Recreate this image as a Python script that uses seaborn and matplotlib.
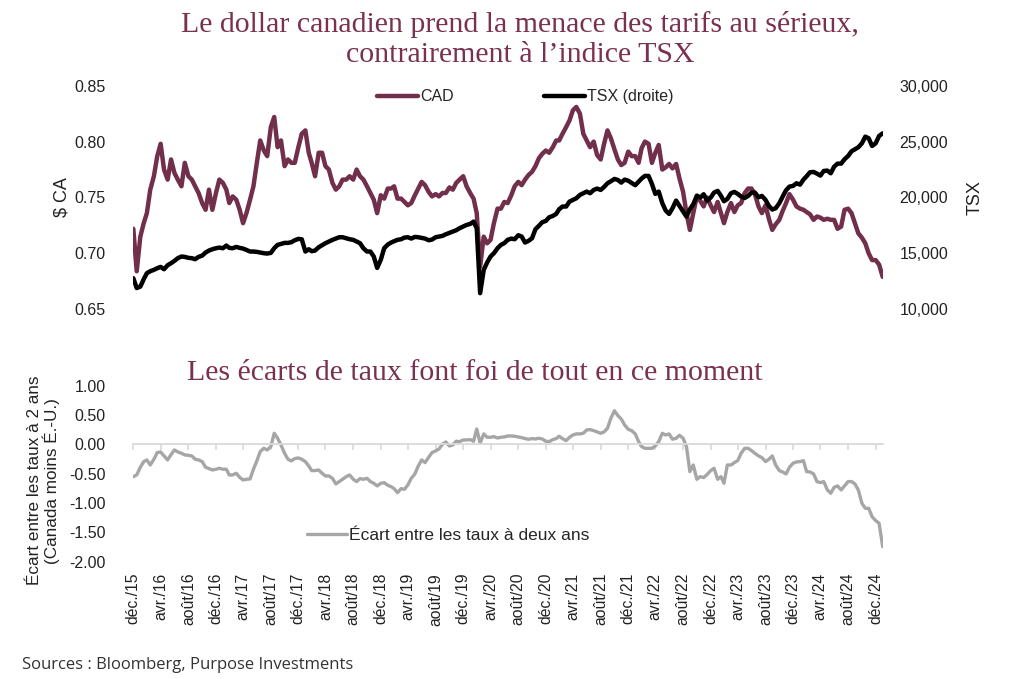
import numpy as np
import pandas as pd
import matplotlib
matplotlib.use("Agg")
import matplotlib.pyplot as plt
import matplotlib.dates as mdates
from matplotlib.ticker import FuncFormatter, FixedLocator
from matplotlib.lines import Line2D
import seaborn as sns

# ---------------- data (semi-monthly readings) ----------------
dates = pd.date_range("2015-12-31", "2025-01-31", freq="SME")

cad = [
    0.722, 0.684, 0.715, 0.727, 0.736, 0.757, 0.769, 0.787, 0.798, 0.775,
    0.766, 0.784, 0.772, 0.766, 0.760, 0.781, 0.769, 0.766, 0.760, 0.754,
    0.745, 0.739, 0.757, 0.739, 0.754, 0.766, 0.763, 0.757, 0.745, 0.751,
    0.748, 0.739, 0.727, 0.736, 0.748, 0.760, 0.781, 0.801, 0.792, 0.787,
    0.813, 0.822, 0.795, 0.801, 0.778, 0.784, 0.781, 0.781, 0.795, 0.807,
    0.810, 0.790, 0.781, 0.769, 0.790, 0.790, 0.778, 0.775, 0.763, 0.757,
    0.760, 0.766, 0.766, 0.769, 0.766, 0.775, 0.769, 0.766, 0.760, 0.754,
    0.748, 0.736, 0.752, 0.749, 0.758, 0.758, 0.760, 0.749, 0.749, 0.746,
    0.743, 0.745, 0.752, 0.758, 0.764, 0.761, 0.755, 0.751, 0.753, 0.751,
    0.754, 0.754, 0.759, 0.757, 0.763, 0.766, 0.769, 0.760, 0.754, 0.749,
    0.736, 0.688, 0.715, 0.709, 0.712, 0.727, 0.740, 0.740, 0.746, 0.745,
    0.752, 0.760, 0.764, 0.761, 0.766, 0.770, 0.773, 0.778, 0.785, 0.789,
    0.792, 0.790, 0.795, 0.801, 0.801, 0.807, 0.813, 0.819, 0.828, 0.831,
    0.825, 0.807, 0.801, 0.795, 0.800, 0.788, 0.784, 0.798, 0.810, 0.803,
    0.793, 0.784, 0.779, 0.781, 0.791, 0.787, 0.787, 0.781, 0.794, 0.800,
    0.798, 0.781, 0.790, 0.797, 0.775, 0.777, 0.780, 0.776, 0.780, 0.767,
    0.755, 0.736, 0.721, 0.736, 0.751, 0.747, 0.742, 0.750, 0.743, 0.737,
    0.746, 0.736, 0.727, 0.737, 0.745, 0.737, 0.743, 0.745, 0.754, 0.758,
    0.758, 0.753, 0.742, 0.736, 0.743, 0.731, 0.721, 0.726, 0.730, 0.738,
    0.745, 0.753, 0.748, 0.742, 0.740, 0.739, 0.737, 0.735, 0.730, 0.733,
    0.732, 0.730, 0.731, 0.730, 0.730, 0.722, 0.724, 0.739, 0.740, 0.736,
    0.727, 0.718, 0.714, 0.709, 0.700, 0.694, 0.694, 0.690, 0.679,
]

tsx = [
    12780, 11900, 12030, 12690, 13230, 13405, 13525, 13675, 13790, 13585,
    13940, 14120, 14330, 14570, 14720, 14685, 14600, 14570, 14480, 14690,
    14800, 15075, 15255, 15370, 15460, 15520, 15460, 15700, 15490, 15460,
    15580, 15490, 15430, 15310, 15165, 15165, 15135, 15075, 15015, 14985,
    15045, 15460, 15760, 15850, 15940, 15940, 16000, 16175, 16295, 16265,
    15165, 15370, 15195, 15255, 15550, 15730, 15910, 16055, 16210, 16325,
    16445, 16445, 16355, 16265, 16210, 16055, 15910, 15460, 15165, 15165,
    14715, 13700, 14420, 15460, 15790, 15970, 16090, 16210, 16265, 16415,
    16445, 16325, 16475, 16445, 16385, 16325, 16175, 16235, 16445, 16505,
    16565, 16710, 16830, 16950, 17070, 17250, 17400, 17545, 17635, 17845,
    17250, 11440, 13525, 14180, 14715, 15015, 15460, 15760, 15910, 16210,
    16325, 16265, 16625, 16505, 15970, 16115, 16355, 17160, 17460, 17785,
    17905, 18230, 18350, 18530, 18950, 19190, 19190, 19635, 19785, 19930,
    20230, 20380, 20530, 20380, 20675, 20795, 20675, 20945, 21270, 21450,
    21660, 21570, 21330, 21600, 21500, 21300, 21100, 21420, 21690, 21930,
    21930, 21210, 20320, 20530, 19485, 18830, 18530, 19035, 19720, 19245,
    18740, 18290, 18950, 19395, 20170, 19990, 20290, 19720, 19990, 20440,
    20590, 20140, 19665, 19870, 20380, 20500, 20320, 20080, 19960, 20140,
    20440, 20440, 20020, 20140, 19780, 19245, 18920, 19040, 19485, 20080,
    20645, 20975, 21035, 21270, 21150, 21600, 21900, 22255, 22285, 22135,
    21960, 22375, 22405, 22165, 22760, 23030, 23030, 23420, 23715, 24135,
    24310, 24490, 24850, 25445, 25295, 24610, 24850, 25505, 25740,
]

spread = [
    -0.552, -0.523, -0.392, -0.296, -0.267, -0.353, -0.256, -0.142, -0.131, -0.199,
    -0.267, -0.177, -0.097, -0.131, -0.154, -0.182, -0.188, -0.199, -0.256, -0.267,
    -0.296, -0.392, -0.415, -0.438, -0.426, -0.409, -0.426, -0.426, -0.523, -0.523,
    -0.495, -0.563, -0.608, -0.597, -0.591, -0.426, -0.284, -0.125, -0.069, -0.097,
    -0.040, 0.187, 0.102, -0.012, -0.154, -0.256, -0.284, -0.244, -0.233, -0.256,
    -0.296, -0.370, -0.449, -0.449, -0.438, -0.495, -0.540, -0.540, -0.580, -0.676,
    -0.636, -0.597, -0.552, -0.523, -0.597, -0.636, -0.585, -0.597, -0.580, -0.636,
    -0.665, -0.710, -0.665, -0.654, -0.699, -0.722, -0.756, -0.824, -0.756, -0.767,
    -0.693, -0.580, -0.506, -0.370, -0.267, -0.313, -0.222, -0.142, -0.114, -0.080,
    0.000, 0.039, -0.029, -0.012, 0.051, 0.045, 0.073, 0.073, 0.079, 0.051,
    0.260, 0.020, 0.176, 0.119, 0.119, 0.130, 0.107, 0.119, 0.124, 0.141,
    0.141, 0.136, 0.124, 0.113, 0.096, 0.085, 0.096, 0.090, 0.102, 0.090,
    0.051, 0.045, 0.079, 0.096, 0.136, 0.096, 0.062, 0.119, 0.158, 0.176,
    0.176, 0.187, 0.244, 0.249, 0.232, 0.210, 0.187, 0.210, 0.272, 0.442,
    0.570, 0.488, 0.431, 0.329, 0.255, 0.232, 0.176, 0.045, -0.040, -0.069,
    -0.069, -0.069, -0.029, 0.045, 0.187, 0.158, 0.176, 0.085, 0.102, 0.153,
    0.102, -0.040, -0.466, -0.353, -0.597, -0.552, -0.568, -0.517, -0.449, -0.409,
    -0.597, -0.552, -0.665, -0.353, -0.353, -0.313, -0.279, -0.154, -0.069, -0.069,
    -0.108, -0.154, -0.199, -0.228, -0.296, -0.256, -0.199, -0.353, -0.449, -0.472,
    -0.506, -0.392, -0.324, -0.301, -0.296, -0.279, -0.466, -0.472, -0.506, -0.636,
    -0.654, -0.636, -0.778, -0.835, -0.733, -0.710, -0.778, -0.710, -0.636, -0.636,
    -0.676, -0.778, -1.006, -1.091, -1.091, -1.233, -1.301, -1.346, -1.744,
]

cad_ticks = [0.65, 0.70, 0.75, 0.80, 0.85]
tsx_ticks = [10000, 15000, 20000, 25000, 30000]
spread_ticks = [-2.0, -1.5, -1.0, -0.5, 0.0, 0.5, 1.0]
x_tick_dates = pd.date_range("2015-12-31", "2024-12-31", freq="4ME")
month_fr = {12: "déc.", 4: "avr.", 8: "août"}
x_tick_labels = [f"{month_fr[d.month]}/{d.year % 100:02d}" for d in x_tick_dates]

title = "Le dollar canadien prend la menace des tarifs au sérieux,\ncontrairement à l’indice TSX"
subtitle = "Les écarts de taux font foi de tout en ce moment"
source = "Sources : Bloomberg, Purpose Investments"

assert len(dates) == len(cad) == len(tsx) == len(spread)
df = pd.DataFrame({"date": dates, "CAD": cad, "TSX": tsx, "spread": spread})

# ---------------- style ----------------
sns.set_theme(style="white")
plt.rcParams["font.family"] = ["Liberation Sans", "DejaVu Sans"]
plt.rcParams["axes.unicode_minus"] = False

MAROON = "#722F4B"
TITLE_C = "#7A3050"
GREY = "#A6A6A6"

fig = plt.figure(figsize=(10.24, 6.79), dpi=100)
ax1 = fig.add_axes([0.1302, 0.5445, 0.7318, 0.3293])
ax1b = ax1.twinx()
ax2 = fig.add_axes([0.1302, 0.1728, 0.7318, 0.2594])

sns.lineplot(data=df, x="date", y="CAD", ax=ax1, color=MAROON, linewidth=3.2, legend=False)
sns.lineplot(data=df, x="date", y="TSX", ax=ax1b, color="black", linewidth=3.2, legend=False)
sns.lineplot(data=df, x="date", y="spread", ax=ax2, color=GREY, linewidth=2.4, legend=False)

xmin, xmax = dates[0], dates[-1]
for a in (ax1, ax1b, ax2):
    a.set_xlim(xmin, xmax)
    for s in a.spines.values():
        s.set_visible(False)

# top panel
ax1.set_ylim(0.65, 0.85)
ax1.yaxis.set_major_locator(FixedLocator(cad_ticks))
ax1.yaxis.set_major_formatter(FuncFormatter(lambda v, p: f"{v:.2f}"))
ax1b.set_ylim(10000, 30000)
ax1b.yaxis.set_major_locator(FixedLocator(tsx_ticks))
ax1b.yaxis.set_major_formatter(FuncFormatter(lambda v, p: f"{v:,.0f}"))
ax1.set_xticks([])
ax1b.set_xticks([])
ax1.set_xlabel("")
ax1b.set_xlabel("")
ax1.tick_params(axis="y", length=0, labelsize=11.5, pad=20, colors="#222222")
ax1b.tick_params(axis="y", length=0, labelsize=11.5, pad=12, colors="#222222")
ax1.set_ylabel("$ CA", fontsize=13, color="#222222")
ax1.yaxis.set_label_coords(-0.084, 0.5)
ax1b.set_ylabel("TSX", fontsize=13, color="#222222")
ax1b.yaxis.set_label_coords(1.112, 0.5)

handles = [Line2D([], [], color=MAROON, lw=3.2), Line2D([], [], color="black", lw=3.2)]
ax1b.legend(handles, ["CAD", "TSX (droite)"], loc="center", bbox_to_anchor=(0.523, 0.95),
            ncol=2, frameon=False, fontsize=11.5, handlelength=2.6, handletextpad=0.15,
            columnspacing=5.6)

# bottom panel
ax2.set_ylim(-2.0, 1.0)
ax2.yaxis.set_major_locator(FixedLocator(spread_ticks))
ax2.yaxis.set_major_formatter(FuncFormatter(lambda v, p: f"{v:.2f}"))
ax2.tick_params(axis="y", length=0, labelsize=11.5, pad=20, colors="#222222")
ax2.spines["bottom"].set_visible(True)
ax2.spines["bottom"].set_position(("data", 0))
ax2.spines["bottom"].set_color("#D9D9D9")
ax2.spines["bottom"].set_linewidth(1.3)
ax2.set_xticks(x_tick_dates)
ax2.tick_params(axis="x", which="both", bottom=True, direction="out", length=4,
                width=1.2, color="#D9D9D9", labelbottom=False)
ax2.set_xlabel("")
ax2.set_ylabel("Écart entre les taux à 2 ans\n(Canada moins É.-U.)", fontsize=12.3,
               color="#222222", linespacing=1.0)
ax2.yaxis.set_label_coords(-0.098, 0.46)

sec = ax2.secondary_xaxis("bottom")
sec.set_xticks(mdates.date2num(x_tick_dates))
sec.set_xticklabels(x_tick_labels, rotation=90, fontsize=11.3, color="#222222")
sec.tick_params(axis="x", length=0, pad=8)
for s in sec.spines.values():
    s.set_visible(False)

ax2.legend([Line2D([], [], color=GREY, lw=2.4)], ["Écart entre les taux à deux ans"],
           loc="center", bbox_to_anchor=(0.42, 0.15), frameon=False, fontsize=12.5,
           handlelength=2.3, handletextpad=0.15)

# texts
fig.text(0.508, 1 - 39 / 679, title, ha="center", va="center", fontsize=21.5,
         family=["Liberation Serif", "DejaVu Serif"], color=TITLE_C, linespacing=1.2)
fig.text(475 / 1024, 1 - 373 / 679, subtitle, ha="center", va="center", fontsize=21.5,
         family=["Liberation Serif", "DejaVu Serif"], color=TITLE_C)
fig.text(22 / 1024, 1 - 665 / 679, source, ha="left", va="center", fontsize=12,
         family=["Open Sans", "DejaVu Sans"], color="#333333")

fig.savefig("out.png", dpi=100)
